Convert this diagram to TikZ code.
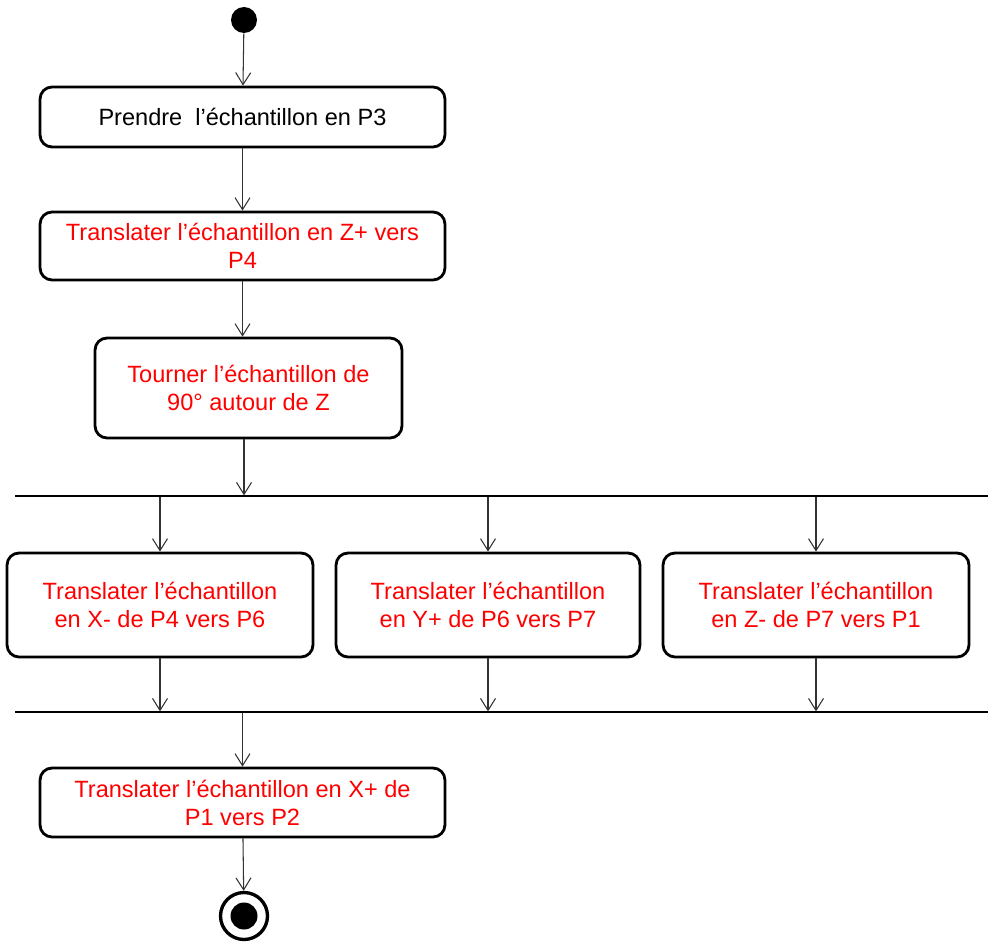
\documentclass[tikz,border=0pt]{standalone}
\usepackage{fontspec}
\setmainfont{Liberation Sans}
\usetikzlibrary{positioning,arrows.meta}

\begin{document}
\begin{tikzpicture}[
  x=0.02cm, y=-0.02cm,
  every node/.style={font=\fontsize{13.4}{16}\selectfont},
  act/.style={rectangle, rounded corners=0.24cm, draw, line width=1.6pt, align=center, minimum height=1.2cm},
  todo/.style={act, text=red},
  bar/.style={rectangle, draw, line width=0.7pt, inner sep=0pt, minimum height=0pt, minimum width=19.46cm},
  flow/.style={draw=black!80, line width=0.6pt, -{Straight Barb[length=0.24cm, width=0.3cm, line width=0.6pt]}}
]
\useasboundingbox (0,0) rectangle (993,942);
% Initial and final states
\node[circle, fill=black, minimum size=0.52cm, inner sep=0pt] (start) at (244,20) {};
\node[circle, draw, line width=1.9pt, minimum size=0.94cm, inner sep=0pt] (stop) at (244,916) {};
\fill (stop.center) circle (0.27cm);
% Sequential actions
\node[act, minimum width=8.1cm] (take) at (242.5,117) {Prendre\ \ l’échantillon en P3};
\node[todo, minimum width=8.1cm, minimum height=1.36cm] (lift) at (242.5,246) {Translater l’échantillon en Z+ vers\\P4};
\node[todo, minimum width=6.14cm, minimum height=2.0cm] (turn) at (248.5,388) {Tourner l’échantillon de\\90° autour de Z};
% Fork and join bars
\node[bar] (fork) at (501.5,496) {};
\node[bar] (join) at (501.5,712) {};
% Parallel actions
\node[todo, minimum width=6.12cm, minimum height=2.08cm] (movex) at (160,605) {Translater l’échantillon\\en X- de P4 vers P6};
\node[todo, minimum width=6.08cm, minimum height=2.08cm] (movey) at (488,605) {Translater l’échantillon\\en Y+ de P6 vers P7};
\node[todo, minimum width=6.12cm, minimum height=2.08cm] (movez) at (816,605) {Translater l’échantillon\\en Z- de P7 vers P1};
% Last action
\node[todo, minimum width=8.1cm, minimum height=1.38cm] (back) at (242.5,802.5) {Translater l’échantillon en X+ de\\P1 vers P2};
% Control flow
\draw[flow] (start) -- (take);
\draw[flow] (take) -- (lift);
\draw[flow] (lift.south) -- (lift.south |- turn.north);
\draw[flow] (turn.south -| start) -- (start |- fork.north);
\draw[flow] (fork.south -| movex) -- (movex);
\draw[flow] (fork.south -| movey) -- (movey);
\draw[flow] (fork.south -| movez) -- (movez);
\draw[flow] (movex) -- (movex |- join.north);
\draw[flow] (movey) -- (movey |- join.north);
\draw[flow] (movez) -- (movez |- join.north);
\draw[flow] (join.south -| back) -- (back);
\draw[flow] (back) -- (stop);
\end{tikzpicture}
\end{document}
